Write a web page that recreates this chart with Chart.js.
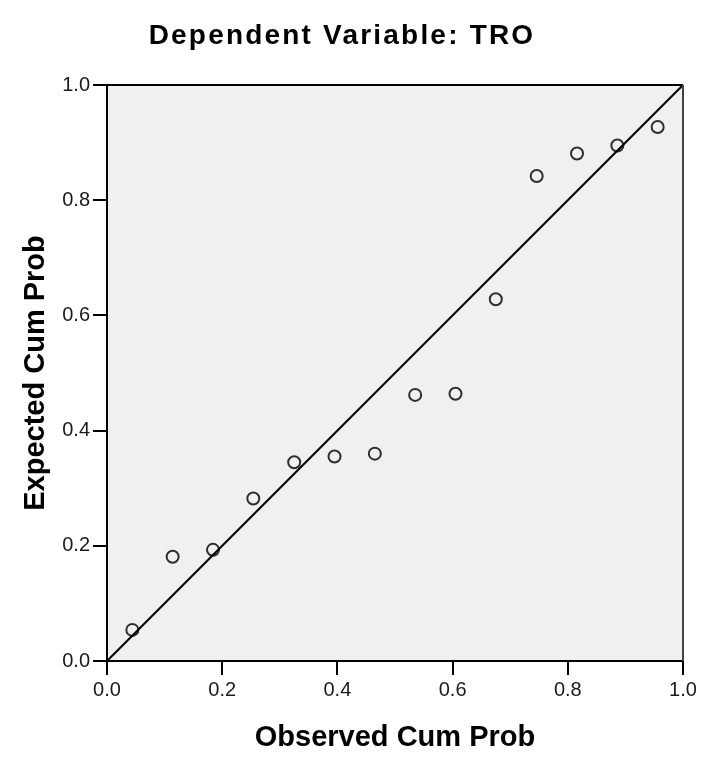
<!DOCTYPE html>
<html>
<head>
<meta charset="utf-8">
<title>Normal P-P Plot</title>
<script src="https://cdn.jsdelivr.net/npm/chart.js@4"></script>
<style>
  html, body { margin: 0; padding: 0; background: #ffffff; }
  canvas { display: block; }
</style>
</head>
<body>
<canvas id="chart" width="720" height="778"></canvas>
<script>
// observed vs expected cumulative probabilities
const observedCumProb = [0.044, 0.114, 0.184, 0.254, 0.325, 0.395, 0.465, 0.535, 0.605, 0.675, 0.746, 0.816, 0.886, 0.956];
const expectedCumProb = [0.054, 0.181, 0.193, 0.282, 0.345, 0.355, 0.360, 0.462, 0.464, 0.628, 0.842, 0.881, 0.895, 0.927];
const referenceLine = [0, 1];
const tickValues = [0, 0.2, 0.4, 0.6, 0.8, 1.0];

const chartTitle = 'Dependent Variable: TRO';
const xTitle = 'Observed Cum Prob';
const yTitle = 'Expected Cum Prob';

const points = observedCumProb.map((x, i) => ({ x: x, y: expectedCumProb[i] }));
const diagonal = referenceLine.map(v => ({ x: v, y: v }));

// grey plot panel + frame + title drawn on the canvas
const panelPlugin = {
    id: 'panel',
    beforeDraw(chart) {
        const { ctx, chartArea: a } = chart;
        ctx.save();
        ctx.fillStyle = '#f0f0f0';
        ctx.fillRect(a.left, a.top, a.right - a.left, a.bottom - a.top);
        ctx.restore();
    },
    afterDraw(chart) {
        const { ctx, chartArea: a } = chart;
        ctx.save();
        ctx.lineWidth = 2;
        ctx.strokeStyle = '#000000';
        ctx.beginPath();
        ctx.moveTo(a.left, a.top);
        ctx.lineTo(a.right, a.top);
        ctx.stroke();
        ctx.strokeStyle = '#444444';
        ctx.beginPath();
        ctx.moveTo(a.right, a.top);
        ctx.lineTo(a.right, a.bottom);
        ctx.stroke();

        ctx.fillStyle = '#000000';
        ctx.font = 'bold 28px "Liberation Sans", Arial, sans-serif';
        ctx.textAlign = 'center';
        ctx.textBaseline = 'middle';
        if ('letterSpacing' in ctx) ctx.letterSpacing = '2.2px';
        ctx.fillText(chartTitle, 342, 36);
        ctx.restore();
    }
};

const ctx = document.getElementById('chart').getContext('2d');
new Chart(ctx, {
    type: 'scatter',
    data: {
        datasets: [
            {
                label: 'Reference',
                type: 'line',
                data: diagonal,
                borderColor: '#000000',
                borderWidth: 2,
                pointRadius: 0,
                fill: false
            },
            {
                label: 'Observed',
                data: points,
                pointStyle: 'circle',
                pointRadius: 6,
                pointBorderWidth: 2,
                pointBorderColor: '#2e2e2e',
                pointBackgroundColor: 'rgba(0,0,0,0)'
            }
        ]
    },
    options: {
        responsive: false,
        animation: false,
        layout: {
            padding: { top: 85, right: 37, left: 0, bottom: 0 }
        },
        plugins: {
            legend: { display: false },
            tooltip: { enabled: false }
        },
        scales: {
            x: {
                type: 'linear',
                min: 0,
                max: 1,
                afterFit: scale => { scale.height = 117; },
                afterBuildTicks: scale => { scale.ticks = tickValues.map(v => ({ value: v })); },
                border: { display: true, color: '#000000', width: 2 },
                grid: { drawOnChartArea: false, drawTicks: true, tickLength: 14, color: '#000000', lineWidth: 2 },
                ticks: {
                    padding: 3,
                    color: '#1a1a1a',
                    font: { family: '"Liberation Sans", Arial, sans-serif', size: 20 },
                    callback: v => v.toFixed(1)
                },
                title: {
                    display: true,
                    text: xTitle,
                    color: '#000000',
                    font: { family: '"Liberation Sans", Arial, sans-serif', size: 29, weight: 'bold' },
                    padding: { top: 0, bottom: 23 }
                }
            },
            y: {
                type: 'linear',
                min: 0,
                max: 1,
                afterFit: scale => { scale.width = 107; },
                afterBuildTicks: scale => { scale.ticks = tickValues.map(v => ({ value: v })); },
                border: { display: true, color: '#000000', width: 2 },
                grid: { drawOnChartArea: false, drawTicks: true, tickLength: 14, color: '#000000', lineWidth: 2 },
                ticks: {
                    padding: 3,
                    color: '#1a1a1a',
                    font: { family: '"Liberation Sans", Arial, sans-serif', size: 20 },
                    callback: v => v.toFixed(1)
                },
                title: {
                    display: true,
                    text: yTitle,
                    color: '#000000',
                    font: { family: '"Liberation Sans", Arial, sans-serif', size: 29, weight: 'bold' },
                    padding: { top: 19, bottom: 0 }
                }
            }
        }
    },
    plugins: [panelPlugin]
});
</script>
</body>
</html>
